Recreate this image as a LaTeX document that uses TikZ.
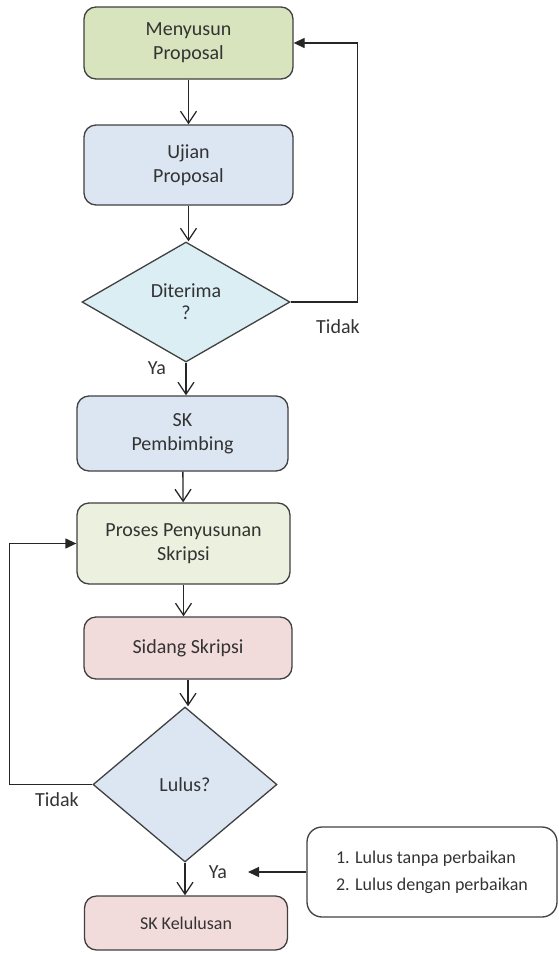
\documentclass[tikz,border=0pt]{standalone}
\usepackage{fontspec}
\setmainfont{Carlito}
\usetikzlibrary{shapes.geometric,arrows.meta}
\definecolor{hijau}{HTML}{D7E4BD}
\definecolor{hijaumuda}{HTML}{EBF1DE}
\definecolor{biru}{HTML}{DCE6F2}
\definecolor{birumuda}{HTML}{DAEEF3}
\definecolor{merah}{HTML}{F2DCDB}
\definecolor{garis}{HTML}{404040}
\begin{document}
\begin{tikzpicture}[x=1pt,y=-1pt,
  kotak/.style={draw=garis,line width=1.3pt,rounded corners=12pt,align=center,inner sep=0pt,text=black!80,font=\fontsize{20}{24}\selectfont},
  belah/.style={draw=garis,line width=1.3pt,diamond,align=center,inner sep=0pt,text=black!80,font=\fontsize{20}{22}\selectfont},
  alur/.style={-{Straight Barb[length=12pt,width=16pt,line width=1.3pt]},line width=1.3pt,draw=black!85},
  balik/.style={-{Triangle[length=11pt,width=10pt]},line width=1.3pt,draw=black!85},
  teks/.style={font=\fontsize{20}{24}\selectfont,text=black!80}]
\useasboundingbox (0,0) rectangle (559,954);
\node[kotak,fill=hijau,minimum width=209pt,minimum height=72pt] (m1) at (188.5,43) {Menyusun\\Proposal};
\node[kotak,fill=biru,minimum width=209pt,minimum height=80pt] (m2) at (188.5,165) {Ujian\\Proposal};
\node[belah,fill=birumuda,minimum width=208pt,minimum height=120pt] (d1) at (186,302) {Diterima\\?};
\node[kotak,fill=biru,minimum width=211pt,minimum height=75pt] (m3) at (182.5,433.5) {SK\\Pembimbing};
\node[kotak,fill=hijaumuda,minimum width=213pt,minimum height=81pt] (m4) at (183.5,543.5) {Proses Penyusunan\\Skripsi};
\node[kotak,fill=merah,minimum width=208pt,minimum height=62pt] (m5) at (188,648) {Sidang Skripsi};
\node[belah,fill=biru,minimum width=184pt,minimum height=155pt] (d2) at (185,784.5) {Lulus?};
\node[kotak,fill=merah,minimum width=203pt,minimum height=54pt,font=\fontsize{18}{22}\selectfont] (m6) at (186,923) {SK Kelulusan};
\node[kotak,rounded corners=15pt,minimum width=250pt,minimum height=90pt,align=left,font=\fontsize{18}{27}\selectfont] (n1) at (432,872) {1. Lulus tanpa perbaikan\\2. Lulus dengan perbaikan};
\node[teks] (t1) at (338,327) {Tidak};
\node[teks] (y1) at (157,368) {Ya};
\node[teks] (t2) at (57,800) {Tidak};
\node[teks] (y2) at (218,872) {Ya};
\coordinate (ujung) at (248,872);
% alur utama
\draw[alur] (m1) -- (m2);
\draw[alur] (m2.south) -- (m2.south |- d1.north);
\draw[alur] (d1.south) -- (d1.south |- m3.north);
\draw[alur] (m3) -- (m4);
\draw[alur] (m4.south) -- (m4.south |- m5.north);
\draw[alur] (m5.south) -- (m5.south |- d2.north);
\draw[alur] (d2.south) -- (d2.south |- m6.north);
% kembali
\draw[balik] (d1.east) -- ++(67,0) |- (m1.east);
\draw[balik] (d2.west) -- ++(-83,0) |- (m4.west);
\draw[balik] (n1.west) -- (ujung);
\end{tikzpicture}
\end{document}
